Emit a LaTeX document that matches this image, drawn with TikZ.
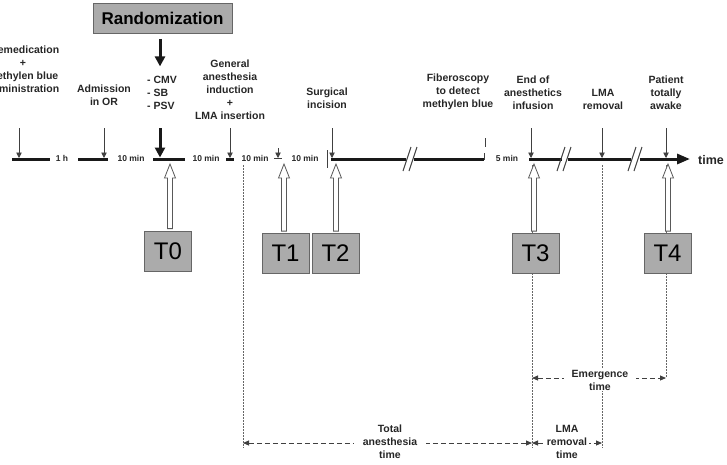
\documentclass[tikz,border=0pt]{standalone}
\usepackage{fontspec}
\setmainfont{Liberation Sans}
\usetikzlibrary{arrows.meta,calc}
\tikzset{
  lbl/.style={font=\bfseries\fontsize{10.5}{12.9}\selectfont, align=center, text=black!85, inner sep=1pt},
  dur/.style={font=\bfseries\fontsize{8.5}{10}\selectfont, text=black!85, inner sep=0pt},
  rbox/.style={draw=black!60, fill=black!33, line width=0.8pt, minimum width=139pt, minimum height=30pt,
               font=\bfseries\fontsize{17}{17}\selectfont},
  tbox/.style={draw=black!60, fill=black!33, line width=0.8pt, minimum width=47pt, minimum height=40pt,
               font=\fontsize{24}{24}\selectfont},
  tline/.style={line width=3pt, black!90},
  thinl/.style={line width=1pt, black!75},
  tick/.style={line width=0.9pt, black!75, -{Triangle[width=5.5pt,length=5.5pt]}, shorten >=1pt},
  heavy/.style={line width=3pt, black!90, -{Triangle[width=10pt,length=10pt]}, shorten >=1.5pt},
  vdot/.style={line width=0.8pt, black!60, dash pattern=on 1.5pt off 1.5pt},
  span/.style={line width=0.9pt, black!75, dash pattern=on 5pt off 3pt,
               {Triangle[width=5pt,length=6pt]}-{Triangle[width=5pt,length=6pt]}},
  hollow/.style={draw=black!65, fill=white, line width=0.8pt}
}
% hollow up-arrow from a T box to its point under the time line
\newcommand{\hollowarrow}[2]{%
  \draw[hollow] let \p1=(#1), \p2=(#2.north) in
    (\x1-2.5pt,\y2+2pt) -- (\x1-2.5pt,\y1-14pt) -- (\x1-5.5pt,\y1-14pt) -- (\x1,\y1)
    -- (\x1+5.5pt,\y1-14pt) -- (\x1+2.5pt,\y1-14pt) -- (\x1+2.5pt,\y2+2pt) -- cycle;}

\begin{document}
\begin{tikzpicture}[x=1pt, y=-1pt]

  \clip (0,0) rectangle (727,464);

  % ---------- events on the time line ----------
  \coordinate (pre) at (19,159);  \coordinate (adm) at (104,159);
  \coordinate (rnd) at (160,159); \coordinate (gai) at (230,159);
  \coordinate (lmi) at (278,159); \coordinate (inc) at (332,159);
  \coordinate (fib) at (485,159); \coordinate (eoi) at (531,159);
  \coordinate (lmr) at (602,159); \coordinate (awk) at (666,159);

  % ---------- labels above ----------
  \node[lbl] (Lpre) at (23,69) {Premedication\\+\\methylen blue\\administration};
  \node[lbl] (Ladm) at (104,95) {Admission\\in OR};
  \node[lbl] (Lgai) at (230,90) {General\\anesthesia\\induction\\+\\LMA insertion};
  \node[lbl] (Linc) at (327,98) {Surgical\\incision};
  \node[lbl] (Lfib) at (458,92) {Fiberoscopy\\to detect\\methylen blue};
  \node[lbl] (Leoi) at (533,93) {End of\\anesthetics\\infusion};
  \node[lbl] (Llmr) at (603,99) {LMA\\removal};
  \node[lbl] (Lawk) at (666,93) {Patient\\totally\\awake};

  \node[rbox] (rand) at (162.5,18.5) {Randomization};
  \node[lbl, align=left, anchor=west] (modes) at (146,93) {- CMV\\- SB\\- PSV};
  \draw[heavy] ($(rnd |- rand.south)+(0,5)$) -- ++(0,29);
  \draw[heavy] ($(rnd)+(0,-31)$) -- (rnd);

  % ---------- time line ----------
  \draw[tline] (12,159) -- (50,159);
  \draw[tline] (78,159) -- (108,159);
  \draw[tline] (153,159) -- (185,159);
  \draw[tline] (226,159) -- (234,159);
  \draw[thinl, line width=1.6pt] (274,158.5) -- (282,158.5);
  \draw[thinl] (327,150) -- (327,168);
  \draw[tline] (331,159) -- (406,159);
  \draw[tline] (414,159) -- (484,159);
  \draw[thinl] (484,160) -- (484,153);
  \draw[tline] (529,159) -- (562,159);
  \draw[tline] (568,159) -- (631,159);
  \draw[tline, -{Triangle[width=10pt,length=13pt]}] (640,159) -- (690,159);
  \foreach \bx in {407,413,561,567,632,638}
    \draw[thinl] (\bx-4,171) -- (\bx+4,147);
  \node[font=\bfseries\fontsize{12.5}{14}\selectfont, text=black!85] (tm) at (711,160) {time};

  \node[dur] (d1) at (62,158) {1 h};
  \node[dur] (d2) at (131,158) {10 min};
  \node[dur] (d3) at (206,158) {10 min};
  \node[dur] (d4) at (255,158) {10 min};
  \node[dur] (d5) at (305,158) {10 min};
  \node[dur] (d6) at (507,158) {5 min};

  % event arrows down onto the line
  \foreach \ev in {pre,adm,gai,inc,eoi,lmr,awk}
    \draw[tick] ($(\ev)+(0,-31)$) -- (\ev);
  \draw[tick] ($(lmi)+(0,-11)$) -- (lmi);
  \draw[thinl] ($(fib)+(0,-21)$) -- ($(fib)+(0,-12)$);

  % ---------- dotted guides and time spans ----------
  \coordinate (tas) at (243,443); \coordinate (tae) at (532,443);
  \coordinate (lme) at (602,443);
  \coordinate (ems) at (532,378); \coordinate (eme) at (666,378);
  \draw[vdot] (243,165) -- (243,448);
  \draw[vdot] (532,165) -- (532,448);
  \draw[vdot] (602,165) -- (602,448);
  \draw[vdot] (666,165) -- (666,378);

  \draw[span] (tas) -- (tae);
  \draw[span] (tae) -- (lme);
  \draw[span] (ems) -- (eme);
  \node[lbl, fill=white, inner xsep=9pt] (Ltot) at (390,442) {Total\\anesthesia\\time};
  \node[lbl, fill=white, inner xsep=2pt] (Llmt) at (567,442) {LMA\\removal\\time};
  \node[lbl, fill=white, inner xsep=8pt] (Lemg) at (600,380) {Emergence\\time};

  % ---------- measurement times ----------
  \node[tbox] (T0) at (168,251) {T0};
  \node[tbox] (T1) at (285.5,253.5) {T1};
  \node[tbox] (T2) at (335.5,253.5) {T2};
  \node[tbox] (T3) at (535.5,253.5) {T3};
  \node[tbox] (T4) at (667.5,253.5) {T4};

  \coordinate (t0tip) at (170,164); \coordinate (t1tip) at (284,164);
  \coordinate (t2tip) at (336,164); \coordinate (t3tip) at (534,164);
  \coordinate (t4tip) at (668,164);
  \hollowarrow{t0tip}{T0} \hollowarrow{t1tip}{T1} \hollowarrow{t2tip}{T2}
  \hollowarrow{t3tip}{T3} \hollowarrow{t4tip}{T4}

\end{tikzpicture}
\end{document}
